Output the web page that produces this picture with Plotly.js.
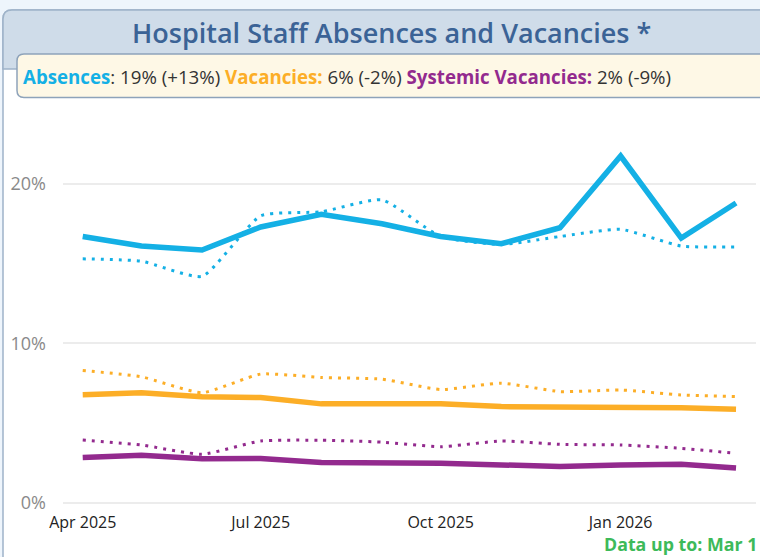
<!DOCTYPE html>
<html>
<head>
<meta charset="utf-8">
<script src="https://cdn.plot.ly/plotly-3.0.1.min.js"></script>
<style>
  html, body { margin: 0; padding: 0; background: #eef5fc; }
  #chart { width: 760px; height: 557px; }
</style>
</head>
<body>
<div id="chart"></div>
<script>
// ---- data ----
const months = ['2025-04-01','2025-05-01','2025-06-01','2025-07-01','2025-08-01','2025-09-01',
                '2025-10-01','2025-11-01','2025-12-01','2026-01-01','2026-02-01','2026-03-01'];
const absences        = [16.7, 16.1, 15.85, 17.3, 18.1, 17.5, 16.7, 16.25, 17.25, 21.75, 16.6, 18.8];
const absencesPrev    = [15.3, 15.15, 14.2, 18.0, 18.25, 19.0, 16.7, 16.2, 16.7, 17.15, 16.1, 16.05];
const vacancies       = [6.78, 6.9, 6.65, 6.6, 6.2, 6.2, 6.2, 6.03, 6.02, 6.0, 5.95, 5.87];
const vacanciesPrev   = [8.3, 7.9, 6.9, 8.07, 7.85, 7.75, 7.1, 7.5, 6.97, 7.07, 6.76, 6.66];
const systemic        = [2.83, 2.98, 2.75, 2.78, 2.52, 2.53, 2.47, 2.37, 2.27, 2.37, 2.41, 2.17];
const systemicPrev    = [3.93, 3.62, 3.04, 3.87, 3.92, 3.8, 3.51, 3.87, 3.66, 3.62, 3.41, 3.1];
const tickVals  = ['2025-04-01','2025-07-01','2025-10-01','2026-01-01'];
const tickText  = ['Apr 2025','Jul 2025','Oct 2025','Jan 2026'];
const yTicks    = [0, 10, 20];
const yTickText = ['0%', '10%', '20%'];

const C_ABS = '#14b0e5', C_VAC = '#fcae27', C_SYS = '#932a8e';

// ---- layout geometry (pixels) ----
const W = 760, H = 557;
const M = {l: 63, r: 4, t: 105, b: 47};
const PW = W - M.l - M.r, PH = H - M.t - M.b;
const px = x => (x - M.l) / PW;          // pixel x -> paper
const py = y => (H - M.b - y) / PH;      // pixel y -> paper

function roundTopLeftPath(x0, y0, x1, y1, r) {
  return `M ${px(x0)} ${py(y1)} L ${px(x0)} ${py(y0 + r)} Q ${px(x0)} ${py(y0)} ${px(x0 + r)} ${py(y0)} ` +
         `L ${px(x1)} ${py(y0)} L ${px(x1)} ${py(y1)} Z`;
}
function roundRectPath(x0, y0, x1, y1, r) {
  return `M ${px(x0 + r)} ${py(y0)} L ${px(x1 - r)} ${py(y0)} Q ${px(x1)} ${py(y0)} ${px(x1)} ${py(y0 + r)} ` +
         `L ${px(x1)} ${py(y1 - r)} Q ${px(x1)} ${py(y1)} ${px(x1 - r)} ${py(y1)} ` +
         `L ${px(x0 + r)} ${py(y1)} Q ${px(x0)} ${py(y1)} ${px(x0)} ${py(y1 - r)} ` +
         `L ${px(x0)} ${py(y0 + r)} Q ${px(x0)} ${py(y0)} ${px(x0 + r)} ${py(y0)} Z`;
}

function solid(y, color) {
  return {x: months, y: y, type: 'scatter', mode: 'lines',
          line: {color: color, width: 5.5, shape: 'linear'}, hoverinfo: 'skip'};
}
function dotted(y, color) {
  return {x: months, y: y, type: 'scatter', mode: 'lines',
          line: {color: color, width: 3, dash: '3px,6px', shape: 'spline', smoothing: 0.5}, hoverinfo: 'skip'};
}

const traces = [
  dotted(systemicPrev, C_SYS), solid(systemic, C_SYS),
  dotted(vacanciesPrev, C_VAC), solid(vacancies, C_VAC),
  dotted(absencesPrev, C_ABS), solid(absences, C_ABS)
];

const FONT = '"Open Sans", Lato, sans-serif';

const layout = {
  width: W, height: H,
  margin: M,
  paper_bgcolor: '#eef5fc',
  plot_bgcolor: 'rgba(0,0,0,0)',
  showlegend: false,
  font: {family: FONT},
  xaxis: {
    type: 'date',
    range: ['2025-03-21 22:00', '2026-03-11 05:00'],
    tickvals: tickVals, ticktext: tickText,
    showgrid: false, zeroline: false, showline: false,
    ticks: '', tickfont: {size: 16, color: '#222', family: FONT},
    ticklabelstandoff: 1
  },
  yaxis: {
    range: [-0.458, 24.95],
    tickvals: yTicks, ticktext: yTickText,
    showgrid: true, gridcolor: '#ececec', gridwidth: 2,
    zeroline: false, showline: false, ticks: '',
    tickfont: {size: 18, color: '#8a8a8a', family: FONT},
    ticklabelstandoff: 16
  },
  shapes: [
    {type: 'path', xref: 'paper', yref: 'paper', layer: 'below',
     path: roundTopLeftPath(3, 10, 780, 580, 9), fillcolor: '#ffffff', line: {color: '#9fb3c9', width: 1.5}},
    {type: 'path', xref: 'paper', yref: 'paper', layer: 'below',
     path: roundTopLeftPath(3, 10, 780, 69, 9), fillcolor: '#cfdce9', line: {color: '#9fb3c9', width: 1.5}},
    {type: 'path', xref: 'paper', yref: 'paper', layer: 'below',
     path: roundRectPath(17, 54, 790, 97.5, 7), fillcolor: '#fef8e6', line: {color: '#8ea3ba', width: 1.5}}
  ],
  annotations: [
    {xref: 'paper', yref: 'paper', x: px(391), y: py(32), xanchor: 'center', yanchor: 'middle',
     text: 'Hospital Staff Absences and Vacancies *', showarrow: false,
     font: {size: 27, color: '#3b6396', family: FONT, weight: 600}},
    {xref: 'paper', yref: 'paper', x: px(21), y: py(76), xanchor: 'left', yanchor: 'middle',
     text: `<b><span style="color:${C_ABS}">Absences</span></b>: 19% (+13%) ` +
           `<b><span style="color:${C_VAC}">Vacancies:</span></b> 6% (-2%) ` +
           `<b><span style="color:${C_SYS}">Systemic Vacancies:</span></b> 2% (-9%)`,
     showarrow: false, font: {size: 18.7, color: '#333', family: FONT}},
    {xref: 'paper', yref: 'paper', x: px(602), y: py(544), xanchor: 'left', yanchor: 'middle',
     text: '<b>Data up to: Mar 1</b>', showarrow: false,
     font: {size: 17.8, color: '#3dba5a', family: FONT}}
  ]
};

Plotly.newPlot('chart', traces, layout, {staticPlot: true, displayModeBar: false});
</script>
</body>
</html>
